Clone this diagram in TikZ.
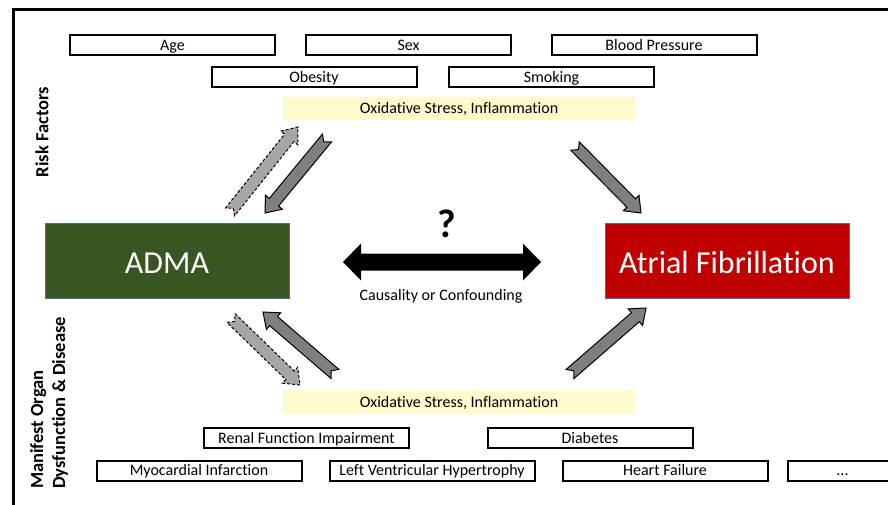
\documentclass[tikz,border=0pt]{standalone}
\usepackage{fontspec}
\setmainfont{Carlito}[Ligatures=CommonOff]
\usetikzlibrary{calc}
\definecolor{admagreen}{HTML}{375623}
\definecolor{afred}{HTML}{C00000}
\definecolor{edgeblue}{HTML}{41719C}
\definecolor{oxyellow}{HTML}{FFFACC}
\definecolor{darkarrow}{HTML}{7F7F7F}
\definecolor{lightarrow}{HTML}{A6A6A6}
\tikzset{
  rbox/.style={draw=black, line width=2pt, minimum width=205pt, minimum height=20pt, inner sep=0pt, text height=12.5pt, text depth=2.5pt, font=\fontsize{16}{18}\selectfont},
  oxbox/.style={fill=oxyellow, minimum width=352pt, minimum height=23pt, inner sep=0pt, text height=12.5pt, text depth=2.5pt, font=\fontsize{16}{18}\selectfont},
  bigbox/.style={draw=edgeblue, line width=1pt, minimum width=244pt, minimum height=75pt, inner sep=0pt, text=white, text height=26pt, text depth=0.5pt, font=\fontsize{32}{36}\selectfont},
  sidelabel/.style={rotate=90, font=\bfseries\fontsize{18.5}{22}\selectfont, align=left, inner sep=0pt},
  solidarrow/.style={draw=black, line width=1pt, fill=darkarrow, line join=miter},
  dasharrow/.style={draw=black, line width=1pt, fill=lightarrow, dashed, dash pattern=on 3pt off 2pt},
}
\newcommand\blkarrow[3][]{%
  \draw[#1] ($(#2)!6pt!90:(#3)$) -- ($(#3)!14pt!(#2)!6pt!-90:(#2)$) -- ($(#3)!14pt!(#2)!11pt!-90:(#2)$) -- (#3) -- ($(#3)!14pt!(#2)!11pt!90:(#2)$) -- ($(#3)!14pt!(#2)!6pt!90:(#2)$) -- ($(#2)!6pt!-90:(#3)$) -- ($(#2)!5pt!(#3)$) -- cycle;}
\begin{document}
\begin{tikzpicture}[x=1pt,y=-1pt]
\useasboundingbox (0,0) rectangle (888,504);
\clip (0,0) rectangle (888,504);
\draw[line width=3pt] (13.5,9) rectangle (910,530);

% risk factor boxes
\node[rbox] (age) at (172.5,45) {Age};
\node[rbox] (sex) at (408.5,45) {Sex};
\node[rbox] (bp) at (654,45) {Blood Pressure};
\node[rbox] (obes) at (314,77) {Obesity};
\node[rbox] (smok) at (551.5,77) {Smoking};
\node[oxbox] (oxtop) at (459,108.5) {Oxidative Stress, Inflammation};

% main boxes
\node[bigbox, fill=admagreen] (adma) at (167,260.5) {ADMA};
\node[bigbox, fill=afred] (af) at (727,260.5) {Atrial Fibrillation};

% centre
\coordinate (cl) at (343,262);
\coordinate (cr) at (541,262);
\fill[black] (cl) -- ++(18,-18.5) -- ++(0,10) -- ($(cr)+(-18,-8.5)$) -- ++(0,-10) -- (cr) -- ++(-18,18.5) -- ++(0,-10) -- ($(cl)+(18,8.5)$) -- ++(0,10) -- cycle;
\node[font=\bfseries\fontsize{40}{44}\selectfont, inner sep=0pt] (q) at (447,224) {?};
\node[font=\fontsize{16}{18}\selectfont, inner sep=0pt] (caus) at (441,296) {Causality or Confounding};

% bottom boxes
\node[oxbox, minimum height=24pt] (oxbot) at (459,402) {Oxidative Stress, Inflammation};
\node[rbox] (renal) at (306.5,438) {Renal Function Impairment};
\node[rbox] (diab) at (590,438) {Diabetes};
\node[rbox] (mi) at (199,470.5) {Myocardial Infarction};
\node[rbox] (lvh) at (432,470.5) {Left Ventricular Hypertrophy};
\node[rbox] (hf) at (665,470.5) {Heart Failure};
\node[rbox, minimum width=109pt] (more) at (842.5,470.5) {...};

% side labels
\node[sidelabel] (risk) at (42,132) {Risk Factors};
\node[sidelabel] (manif) at (49,403) {Manifest Organ\\Dysfunction \& Disease};

% block arrows
\coordinate (a1s) at (230,212); \coordinate (a1e) at (298,127);
\coordinate (a2s) at (327,138); \coordinate (a2e) at (265,213);
\coordinate (a3s) at (575,146); \coordinate (a3e) at (641,213);
\coordinate (a4s) at (231,318); \coordinate (a4e) at (300,385);
\coordinate (a5s) at (335,374); \coordinate (a5e) at (263,312);
\coordinate (a6s) at (570,374); \coordinate (a6e) at (646,308);
\blkarrow[dasharrow]{a1s}{a1e}
\blkarrow[solidarrow]{a2s}{a2e}
\blkarrow[solidarrow]{a3s}{a3e}
\blkarrow[dasharrow]{a4s}{a4e}
\blkarrow[solidarrow]{a5s}{a5e}
\blkarrow[solidarrow]{a6s}{a6e}
\end{tikzpicture}
\end{document}
